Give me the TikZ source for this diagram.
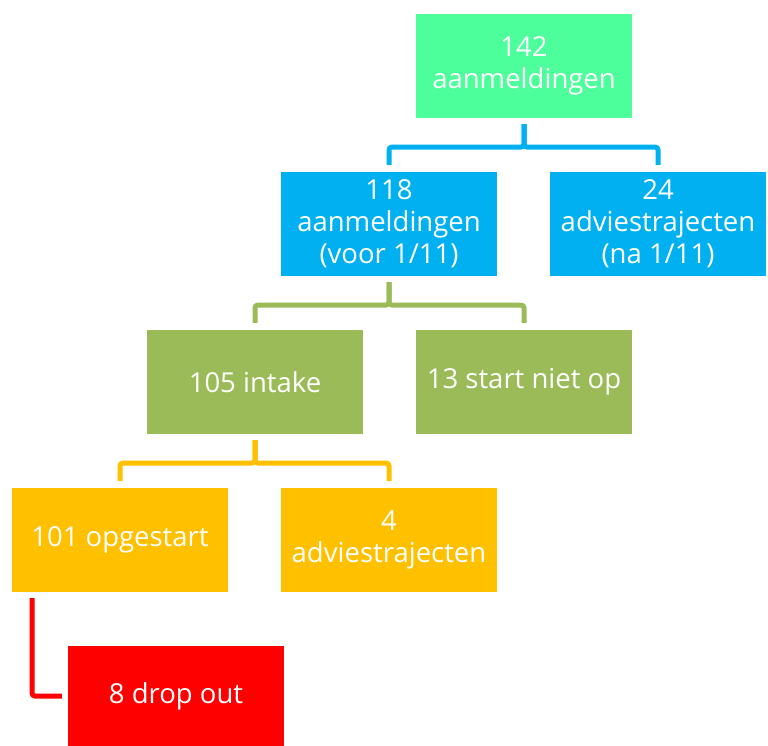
\documentclass[tikz,border=0pt]{standalone}
\usepackage{fontspec}
\setmainfont{Open Sans}
\definecolor{cmint}{HTML}{4CFF9A}
\definecolor{cblue}{HTML}{00B0F0}
\definecolor{cgreen}{HTML}{9BBB59}
\definecolor{corange}{HTML}{FFC000}
\definecolor{cred}{HTML}{FF0000}
\begin{document}
\begin{tikzpicture}[x=1pt,y=-1pt,
  box/.style={minimum width=216pt,minimum height=104pt,inner sep=0pt,text=white,align=center,font=\fontsize{27.5}{32}\selectfont},
  conn/.style={line width=5pt,rounded corners=3pt}]
\useasboundingbox (0,0) rectangle (768,745);
\node[box,fill=cmint] (a) at (524,66) {142\\aanmeldingen};
\node[box,fill=cblue] (b) at (389,224) {118\\aanmeldingen\\(voor 1/11)};
\node[box,fill=cblue] (c) at (658,224) {24\\adviestrajecten\\(na 1/11)};
\node[box,fill=cgreen] (d) at (255,382) {105 intake};
\node[box,fill=cgreen] (e) at (524,382) {13 start niet op};
\node[box,fill=corange] (f) at (120,540) {101 opgestart};
\node[box,fill=corange] (g) at (389,540) {4\\adviestrajecten};
\node[box,fill=cred,minimum height=100pt] (h) at (176,696) {8 drop out};
\coordinate (a1) at ([yshift=-6pt]a.south);
\coordinate (b1) at ([yshift=7pt]b.north);
\coordinate (c1) at ([yshift=7pt]c.north);
\draw[conn,cblue] (a1) |- (389,147) -- (b1);
\draw[conn,cblue] (a1) |- (658,147) -- (c1);
\coordinate (b2) at ([yshift=-6pt]b.south);
\coordinate (d1) at ([yshift=7pt]d.north);
\coordinate (e1) at ([yshift=7pt]e.north);
\draw[conn,cgreen] (b2) |- (255,305) -- (d1);
\draw[conn,cgreen] (b2) |- (524,305) -- (e1);
\coordinate (d2) at ([yshift=-6pt]d.south);
\coordinate (f1) at ([yshift=7pt]f.north);
\coordinate (g1) at ([yshift=7pt]g.north);
\draw[conn,corange] (d2) |- (120,463) -- (f1);
\draw[conn,corange] (d2) |- (389,463) -- (g1);
\coordinate (f2) at ([xshift=-88pt,yshift=-6pt]f.south);
\coordinate (h1) at ([xshift=-6pt]h.west);
\draw[conn,cred] (f2) |- (h1);
\end{tikzpicture}
\end{document}
